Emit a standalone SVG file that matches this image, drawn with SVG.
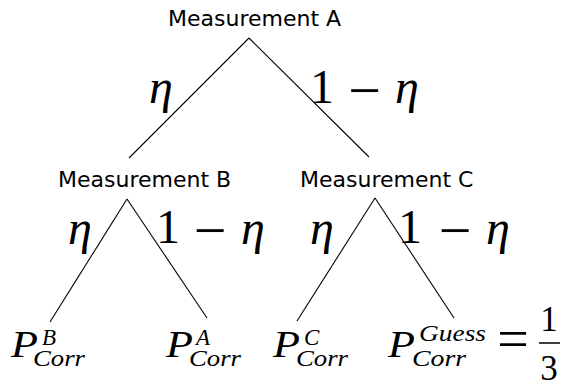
<svg xmlns="http://www.w3.org/2000/svg" width="562" height="385" viewBox="0 0 562 385">
<style>
.lbl{font-family:"DejaVu Sans",sans-serif;font-size:22px;fill:#000}
.m{font-family:"Liberation Serif",serif;fill:#000}
.i{font-style:italic}
.big{font-size:48px}
.mn{font-size:58px}
.p{font-size:37px}
.s{font-size:23px}
line{stroke:#000;stroke-width:1.1}
</style>
<rect width="562" height="385" fill="#fff"/>
<g id="connectors">
<line x1="249" y1="38" x2="129" y2="158"/>
<line x1="249" y1="38" x2="369" y2="157"/>
<line x1="127" y1="199" x2="50" y2="322"/>
<line x1="127" y1="199" x2="207" y2="318"/>
<line x1="375" y1="198" x2="297" y2="321"/>
<line x1="375" y1="198" x2="454" y2="318"/>
</g>
<g id="nodeA"><text class="lbl" x="168" y="26">Measurement A</text></g>
<g id="nodeB"><text class="lbl" x="58" y="187">Measurement B</text></g>
<g id="nodeC"><text class="lbl" x="300" y="187">Measurement C</text></g>
<g id="edgeLabels">
<text class="m i big" x="149" y="103">η</text>
<text class="m big" x="310" y="103">1</text>
<text class="m mn" x="364.5" y="110" text-anchor="middle">−</text>
<text class="m i big" x="395" y="103">η</text>
<text class="m i big" x="68" y="244">η</text>
<text class="m big" x="156" y="243">1</text>
<text class="m mn" x="210" y="250" text-anchor="middle">−</text>
<text class="m i big" x="241" y="244">η</text>
<text class="m i big" x="310" y="244">η</text>
<text class="m big" x="398" y="243">1</text>
<text class="m mn" x="455" y="250" text-anchor="middle">−</text>
<text class="m i big" x="486" y="244">η</text>
</g>
<g id="leafB"><text class="m i p" x="11" y="357" textLength="27" lengthAdjust="spacingAndGlyphs">P</text><text class="m i s" x="42" y="345">B</text><text class="m i s" x="33" y="366" textLength="52" lengthAdjust="spacingAndGlyphs">Corr</text></g>
<g id="leafA"><text class="m i p" x="166" y="357" textLength="27" lengthAdjust="spacingAndGlyphs">P</text><text class="m i s" x="196" y="345">A</text><text class="m i s" x="189" y="366" textLength="52" lengthAdjust="spacingAndGlyphs">Corr</text></g>
<g id="leafC"><text class="m i p" x="273" y="357" textLength="27" lengthAdjust="spacingAndGlyphs">P</text><text class="m i s" x="304" y="345">C</text><text class="m i s" x="296" y="366" textLength="52" lengthAdjust="spacingAndGlyphs">Corr</text></g>
<g id="leafGuess"><text class="m i p" x="388" y="357" textLength="27" lengthAdjust="spacingAndGlyphs">P</text><text class="m i s" x="419" y="341" textLength="67" lengthAdjust="spacingAndGlyphs">Guess</text><text class="m i s" x="412" y="366" textLength="54" lengthAdjust="spacingAndGlyphs">Corr</text>
<text class="m" font-size="56" x="513" y="358" text-anchor="middle">=</text>
<text class="m" font-size="35" x="549" y="331" text-anchor="middle">1</text>
<line x1="539" y1="343" x2="560" y2="343" style="stroke-width:1.5"/>
<text class="m" font-size="35" x="549" y="380" text-anchor="middle">3</text>
</g>
</svg>
